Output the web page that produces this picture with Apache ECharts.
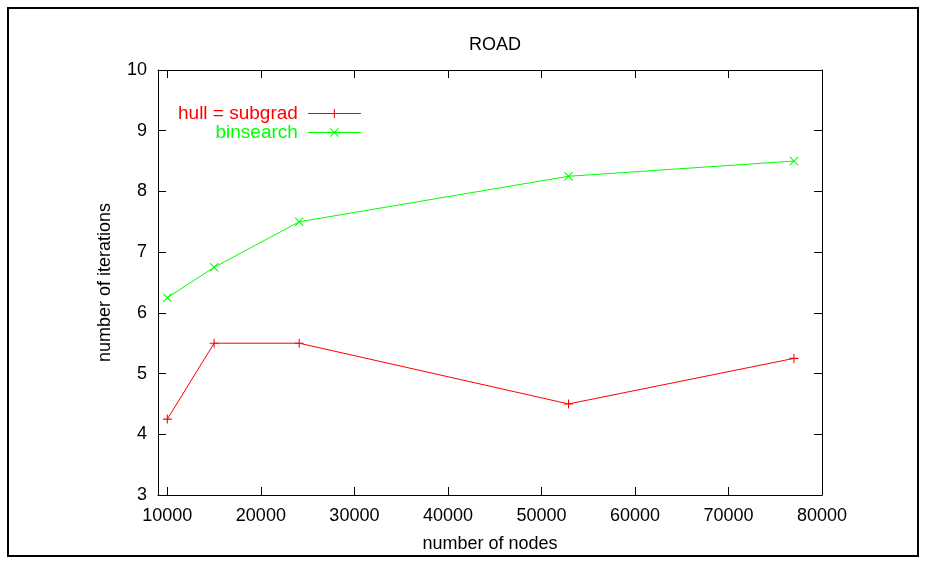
<!DOCTYPE html>
<html>
<head>
<meta charset="utf-8">
<script src="https://cdn.jsdelivr.net/npm/echarts@6/dist/echarts.min.js"></script>
<style>
html,body{margin:0;padding:0;background:#fff;}
#chart{width:925px;height:561px;}
</style>
</head>
<body>
<div id="chart"></div>
<script>
// ---- data ----
var title = 'ROAD';
var nodes = [10000, 15000, 24100, 52900, 77000];
var hullSubgrad = [4.25, 5.5, 5.5, 4.5, 5.25];
var binsearch = [6.25, 6.75, 7.5, 8.25, 8.5];
var xTicks = [10000, 20000, 30000, 40000, 50000, 60000, 70000, 80000];
var seriesNames = ['hull = subgrad', 'binsearch'];
var seriesColors = ['#ff0000', '#00ff00'];
var xName = 'number of nodes';
var yName = 'number of iterations';

function pairs(xs, ys) { return xs.map(function (x, i) { return [x, ys[i]]; }); }

var FONT = 'Liberation Sans, Arial, sans-serif';
var PLUS = 'path://M4.4,0H5.6V4.4H10V5.6H5.6V10H4.4V5.6H0V4.4H4.4Z';
var CROSS = 'path://M0,0.8L0.8,0L5,4.2L9.2,0L10,0.8L5.8,5L10,9.2L9.2,10L5,5.8L0.8,10L0,9.2L4.2,5Z';

var chart = echarts.init(document.getElementById('chart'), null, {renderer: 'canvas'});

var baseX = {
  type: 'value', min: 9000, max: 80000,
  axisLine: {show: true, onZero: false, lineStyle: {color: '#000', width: 1}},
  splitLine: {show: false},
  axisTick: {show: true, inside: true, length: 8, customValues: xTicks, lineStyle: {color: '#000'}}
};
var baseY = {
  type: 'value', min: 3, max: 10, interval: 1,
  axisLine: {show: true, onZero: false, lineStyle: {color: '#000', width: 1}},
  splitLine: {show: false},
  axisTick: {show: true, inside: true, length: 8, lineStyle: {color: '#000'}}
};

var option = {
  backgroundColor: '#fff',
  animation: false,
  title: {
    text: title, left: 490, textAlign: 'center', top: 31,
    textStyle: {fontFamily: FONT, fontSize: 18, fontWeight: 'normal', color: '#000'}
  },
  grid: {left: 158, right: 103, top: 70, bottom: 66, containLabel: false},
  legend: {
    orient: 'vertical', align: 'right', left: 178, top: 104, padding: 0,
    itemWidth: 53, itemHeight: 11, itemGap: 0,
    lineStyle: {width: 1},
    textStyle: {fontFamily: FONT, fontSize: 19, padding: [0, 5, 0, 0]},
    data: seriesNames.map(function (n, i) {
      return {name: n, textStyle: {color: seriesColors[i]}};
    })
  },
  xAxis: [
    Object.assign({}, baseX, {
      position: 'bottom', name: xName, nameLocation: 'middle', nameGap: 40,
      nameTextStyle: {fontFamily: FONT, fontSize: 18, color: '#000'},
      axisLabel: {
        show: true, customValues: xTicks, margin: 12, fontFamily: FONT, fontSize: 18, color: '#000',
        formatter: function (v) { return String(v); }
      }
    }),
    Object.assign({}, baseX, {position: 'top', axisLabel: {show: false}})
  ],
  yAxis: [
    Object.assign({}, baseY, {
      position: 'left', name: yName, nameLocation: 'middle', nameGap: 44, nameRotate: 90,
      nameTextStyle: {fontFamily: FONT, fontSize: 18, color: '#000'},
      axisLabel: {show: true, margin: 11, fontFamily: FONT, fontSize: 18, color: '#000'}
    }),
    Object.assign({}, baseY, {position: 'right', axisLabel: {show: false}})
  ],
  graphic: [{
    type: 'rect', shape: {x: 8, y: 8, width: 910, height: 548},
    style: {fill: 'none', stroke: '#000', lineWidth: 2}, silent: true
  }],
  series: [
    {
      name: seriesNames[0], type: 'line', xAxisIndex: 0, yAxisIndex: 0,
      data: pairs(nodes, hullSubgrad),
      symbol: PLUS, symbolSize: 9, showAllSymbol: true,
      itemStyle: {color: seriesColors[0]},
      lineStyle: {color: seriesColors[0], width: 1}
    },
    {
      name: seriesNames[1], type: 'line', xAxisIndex: 0, yAxisIndex: 0,
      data: pairs(nodes, binsearch),
      symbol: CROSS, symbolSize: 9, showAllSymbol: true,
      itemStyle: {color: seriesColors[1]},
      lineStyle: {color: seriesColors[1], width: 1}
    }
  ]
};
chart.setOption(option);
</script>
</body>
</html>
